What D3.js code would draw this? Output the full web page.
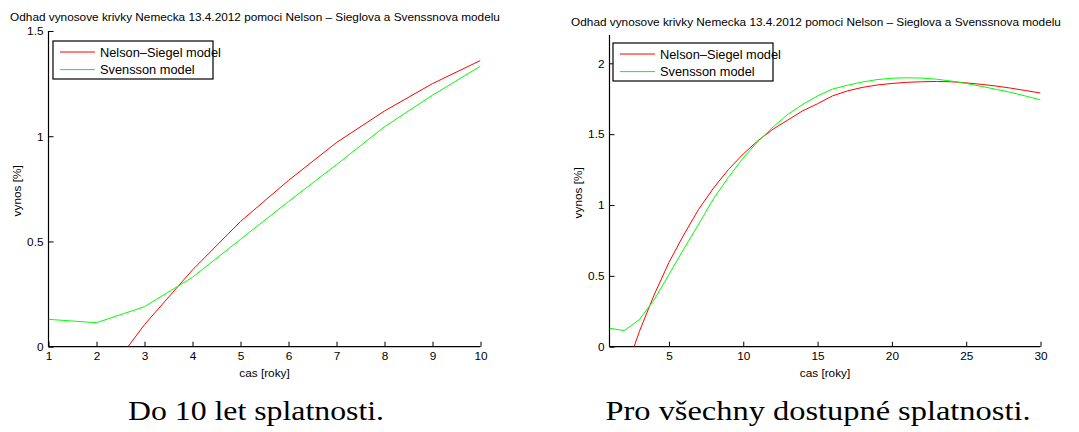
<!DOCTYPE html>
<html>
<head>
<meta charset="utf-8">
<script src="https://cdn.jsdelivr.net/npm/d3@7"></script>
<style>
  html, body { margin: 0; padding: 0; background: #fff; }
  svg { display: block; }
  .lbl { font-family: "Liberation Sans", Arial, sans-serif; font-size: 11.8px; fill: #000; }
  .leg { font-family: "Liberation Sans", Arial, sans-serif; font-size: 12.8px; fill: #000; }
  .cap { font-family: "Liberation Serif", "DejaVu Serif", serif; font-size: 28px; fill: #000; }
</style>
</head>
<body>
<svg id="fig" width="1079" height="432"></svg>
<script>
// Maturities in years
const maturities = [1,2,3,4,5,6,7,8,9,10,11,12,13,14,15,16,17,18,19,20,21,22,23,24,25,26,27,28,29,30];

// Fitted yields [%], Nelson–Siegel model
const nelsonSiegel = [-0.55,-0.20,0.105,0.365,0.595,0.79,0.97,1.12,1.25,1.36,
  1.455,1.535,1.60,1.665,1.715,1.77,1.805,1.83,1.847,1.858,
  1.866,1.870,1.872,1.870,1.862,1.852,1.840,1.825,1.808,1.79];

// Fitted yields [%], Svensson model
const svensson = [0.13,0.114,0.19,0.33,0.51,0.69,0.865,1.045,1.195,1.333,
  1.45,1.55,1.64,1.71,1.77,1.818,1.845,1.868,1.885,1.895,
  1.898,1.896,1.888,1.875,1.858,1.838,1.817,1.795,1.769,1.742];

const seriesNames = ["Nelson\u2013Siegel model", "Svensson model"];
const seriesColors = ["#ff0000", "#00ff00"];

const titleText = "Odhad vynosove krivky Nemecka 13.4.2012 pomoci Nelson \u2013 Sieglova a Svenssnova modelu";
const xLabel = "cas [roky]";
const yLabel = "vynos [%]";

const leftXTicks = [1,2,3,4,5,6,7,8,9,10];
const leftYTicks = [0,0.5,1,1.5];
const rightXTicks = [5,10,15,20,25,30];
const rightYTicks = [0,0.5,1,1.5,2];

const captions = ["Do 10 let splatnosti.", "Pro v\u0161echny dostupn\u00e9 splatnosti."];

const svg = d3.select("#fig");

function panel(cfg) {
  const { id, x0, x1, y0, y1, xDomain, yDomain, xTicks, yTicks, n, title, legend, caption } = cfg;
  const g = svg.append("g");
  const x = d3.scaleLinear().domain(xDomain).range([x0, x1]);
  const y = d3.scaleLinear().domain(yDomain).range([y1, y0]);

  g.append("clipPath").attr("id", "clip-" + id)
    .append("rect").attr("x", x0).attr("y", y0).attr("width", x1 - x0).attr("height", y1 - y0);

  const fmt = d => d3.format("~g")(d);

  // axes with inward ticks
  const xAxis = d3.axisBottom(x).tickValues(xTicks).tickSize(-5).tickPadding(5).tickFormat(fmt);
  const yAxis = d3.axisLeft(y).tickValues(yTicks).tickSize(-5).tickPadding(5).tickFormat(fmt);

  const gx = g.append("g").attr("transform", `translate(0,${y1})`).call(xAxis);
  const gy = g.append("g").attr("transform", `translate(${x0},0)`).call(yAxis);
  [gx, gy].forEach(a => {
    a.selectAll("text").attr("class", "lbl").attr("font-size", null).attr("font-family", null);
    a.select(".domain").attr("stroke", "#000").attr("stroke-width", 1.2);
    a.selectAll(".tick line").attr("stroke", "#000");
  });
  gx.selectAll(".tick text").attr("dy", "0.71em");
  gx.select(".domain").attr("d", `M${x0},0H${x1}`);
  gy.select(".domain").attr("d", `M0,${y1}V${y0}`);

  // curves
  const line = d3.line().x((d, i) => x(maturities[i])).y(d => y(d));
  [nelsonSiegel, svensson].forEach((s, k) => {
    g.append("path")
      .datum(s.slice(0, n))
      .attr("clip-path", `url(#clip-${id})`)
      .attr("fill", "none")
      .attr("stroke", seriesColors[k])
      .attr("stroke-width", 1)
      .attr("d", line);
  });

  // title and axis labels
  g.append("text").attr("class", "lbl").attr("x", title.x).attr("y", title.y)
    .attr("text-anchor", "middle").text(titleText);
  g.append("text").attr("class", "lbl").attr("x", (x0 + x1) / 2).attr("y", y1 + 30.5)
    .attr("text-anchor", "middle").text(xLabel);
  g.append("text").attr("class", "lbl")
    .attr("transform", `translate(${cfg.yLabelX},${(y0 + y1) / 2 + 2}) rotate(-90)`)
    .attr("text-anchor", "middle").text(yLabel);

  // legend
  const lg = g.append("g").attr("transform", `translate(${legend.x},${legend.y})`);
  lg.append("rect").attr("width", legend.w).attr("height", legend.h)
    .attr("fill", "#fff").attr("stroke", "#000").attr("stroke-width", 1.2);
  seriesNames.forEach((name, k) => {
    const ry = 11 + k * 17.6;
    lg.append("line").attr("x1", 7).attr("x2", 42).attr("y1", ry).attr("y2", ry)
      .attr("stroke", seriesColors[k]).attr("stroke-width", 1);
    lg.append("text").attr("class", "leg")
      .attr("x", 47).attr("y", ry + 4.5).text(name);
  });

  svg.append("text").attr("class", "cap").attr("x", caption.x).attr("y", caption.y)
    .attr("text-anchor", "middle")
    .attr("textLength", caption.w).attr("lengthAdjust", "spacingAndGlyphs")
    .text(captions[caption.i]);
}

panel({
  id: "a", x0: 48.5, x1: 480.5, y0: 31, y1: 346.7,
  xDomain: [1, 10], yDomain: [0, 1.5], xTicks: leftXTicks, yTicks: leftYTicks, n: 10,
  title: { x: 255, y: 21 }, yLabelX: 21,
  legend: { x: 53, y: 41, w: 160, h: 38 },
  caption: { x: 256, y: 420, i: 0, w: 256 }
});

panel({
  id: "b", x0: 609.5, x1: 1040.5, y0: 35, y1: 346.7,
  xDomain: [1, 30], yDomain: [0, 2.2], xTicks: rightXTicks, yTicks: rightYTicks, n: 30,
  title: { x: 816, y: 25.5 }, yLabelX: 582,
  legend: { x: 613, y: 43, w: 160, h: 38 },
  caption: { x: 818, y: 420, i: 1, w: 425 }
});
</script>
</body>
</html>
